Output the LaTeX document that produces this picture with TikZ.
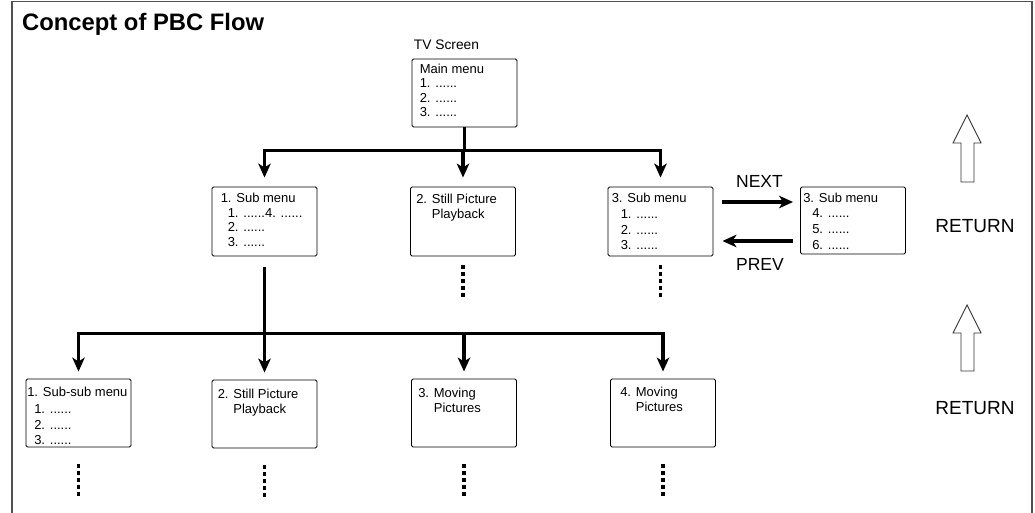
\documentclass[tikz,border=0pt]{standalone}
\usepackage{fontspec}
\setmainfont{Liberation Sans}
\usetikzlibrary{arrows.meta,calc}
\definecolor{framegray}{HTML}{505050}
\tikzset{
  box/.style={draw=black, line width=0.9pt, rounded corners=1.5pt, minimum width=105pt, minimum height=69pt, inner sep=0pt},
  txt/.style={anchor=north west, inner sep=0pt, align=left, font=\fontsize{13}{14.5}\selectfont},
  txtb/.style={txt, font=\fontsize{13}{15.3}\selectfont},
  conn/.style={line width=3.5pt},
  arr/.style={line width=3.5pt, -{Stealth[length=14pt,width=12.5pt,inset=4pt]}},
  dotline/.style={line width=3.5pt, dash pattern=on 4pt off 3pt},
  retarrow/.style={draw=black!80, line width=0.9pt, fill=white},
  biglabel/.style={inner sep=0pt, font=\fontsize{17.5}{20}\selectfont},
}
\begin{document}
\begin{tikzpicture}[x=1pt,y=-1pt]
\useasboundingbox (0,0) rectangle (1035,513);
% frame
\draw[framegray, line width=1.5pt] (12,530) -- (12,1.5) -- (1032,1.5) -- (1032,530);
% title
\node[anchor=base west, inner sep=0pt, font=\fontsize{23.8}{27}\selectfont\bfseries] (title) at (22,31) {Concept of PBC Flow};
\node[inner sep=0pt, font=\fontsize{13.8}{15}\selectfont] (tv) at (446.5,45) {TV Screen};
% boxes
\node[box, minimum height=68pt] (m) at (464.5,93) {};
\node[box] (s1) at (264.5,221.5) {};
\node[box] (s2) at (463,221.5) {};
\node[box] (s3) at (660.5,221.5) {};
\node[box, minimum height=67pt] (s3b) at (853,220.5) {};
\node[box, minimum height=68pt] (t1) at (78.5,413) {};
\node[box, minimum height=68pt] (t2) at (264.5,414) {};
\node[box, minimum height=68pt] (t3) at (464,413) {};
\node[box, minimum height=68pt] (t4) at (663,413) {};
% box texts
\node[txt, font=\fontsize{13}{14.2}\selectfont] (mtx) at ($(m.north west)+(8,5.5)$) {Main menu\\1. ......\\2. ......\\3. ......};
\node[txt] (s1tx) at ($(s1.north west)+(9,6.5)$) {1. Sub menu\\\hspace*{7pt}1. ......4. ......\\\hspace*{7pt}2. ......\\\hspace*{7pt}3. ......};
\node[txt, font=\fontsize{13}{15}\selectfont] (s2tx) at ($(s2.north west)+(6,7)$) {2. Still Picture\\\phantom{2. }Playback};
\node[txtb, font=\fontsize{13}{15.7}\selectfont] (s3tx) at ($(s3.north west)+(4,6.5)$) {3. Sub menu\\\hspace*{9pt}1. ......\\\hspace*{9pt}2. ......\\\hspace*{9pt}3. ......};
\node[txtb, font=\fontsize{13}{15.7}\selectfont] (s3btx) at ($(s3b.north west)+(3,6)$) {3. Sub menu\\\hspace*{9pt}4. ......\\\hspace*{9pt}5. ......\\\hspace*{9pt}6. ......};
\node[txtb] (t1tx) at ($(t1.north west)+(1.5,8.5)$) {1. Sub-sub menu\\[2pt]\hspace*{7pt}1. ......\\\hspace*{7pt}2. ......\\\hspace*{7pt}3. ......};
\node[txtb] (t2tx) at ($(t2.north west)+(6,9.5)$) {2. Still Picture\\\phantom{2. }Playback};
\node[txtb] (t3tx) at ($(t3.north west)+(7,9)$) {3. Moving\\\phantom{3. }Pictures};
\node[txtb] (t4tx) at ($(t4.north west)+(10,8.5)$) {4. Moving\\\phantom{4. }Pictures};
% level 1 connectors
\coordinate (j1) at ($(m.south)+(0,23)$);
\draw[conn] (m.south) -- (j1);
\draw[arr, shorten >=9pt] (j1) -| (s1.north);
\draw[arr, shorten >=9pt] (j1) -| (s3.north);
\draw[arr, shorten >=9pt] (s2.north |- j1) -- (s2.north);
% level 2 connectors
\coordinate (k1) at ($(s1.south)+(0,11)$);
\coordinate (j2) at ($(s1.south)+(0,77)$);
\draw[conn] (k1) -- (j2);
\draw[arr, shorten >=7pt] (j2) -| (t1.north);
\draw[arr, shorten >=7pt] (j2) -| (t4.north);
\draw[arr, shorten >=7pt] (j2) -- (t2.north);
\draw[arr, shorten >=7pt] (t3.north |- j2) -- (t3.north);
% next / prev
\draw[arr] ($(s3.east)+(9,-19.5)$) -- ($(s3b.west)+(-7,-18.5)$);
\draw[arr] ($(s3b.west)+(-7,20.5)$) -- ($(s3.east)+(9,19.5)$);
\node[biglabel] (next) at (759.5,181) {NEXT};
\node[biglabel] (prev) at (760,264.5) {PREV};
% continuation dots
\draw[dotline] ($(s2.south)+(0,9)$) -- ++(0,32);
\draw[dotline] ($(s3.south)+(0,9)$) -- ++(0,32);
\draw[dotline] ($(t1.south)+(0,17)$) -- ++(0,32);
\draw[dotline] ($(t2.south)+(0,17)$) -- ++(0,32);
\draw[dotline] ($(t3.south)+(0,17)$) -- ++(0,32);
\draw[dotline] ($(t4.south)+(0,17)$) -- ++(0,32);
% return arrows
\draw[retarrow] (961,182) -- (961,143) -- (953,143) -- (967,115) -- (981,143) -- (974,143) -- (974,182) -- cycle;
\draw[retarrow] (961,371) -- (961,333) -- (953,333) -- (967,305) -- (981,333) -- (974,333) -- (974,371) -- cycle;
\node[biglabel, font=\fontsize{19}{21}\selectfont] (ret1) at (975,226) {RETURN};
\node[biglabel, font=\fontsize{19}{21}\selectfont] (ret2) at (975,408) {RETURN};
\end{tikzpicture}
\end{document}
